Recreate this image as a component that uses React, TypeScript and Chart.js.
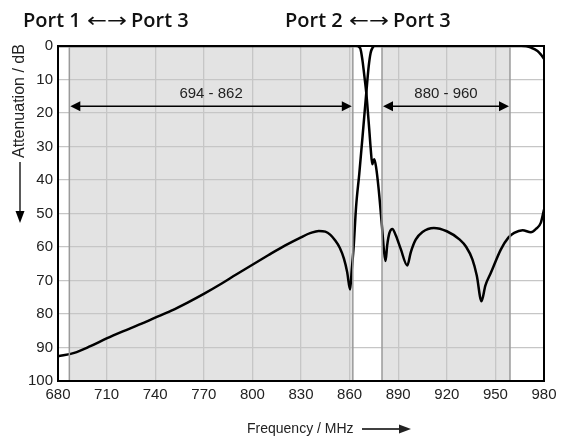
import React, { useEffect, useRef } from "react";
import { Chart, registerables } from "chart.js";
Chart.register(...registerables);

// Port 1 <-> Port 3 (passes 694-862, stops 880-960)
const port13Freq = [680, 720, 760, 800, 840, 860, 864, 866.5, 868, 869, 870.3, 871.5, 872.3, 873, 874, 875.2, 876.3, 878, 880, 881.2, 882.2, 883.2, 884.6, 886.4, 888.5, 891.5, 895.6, 897.8, 900.8, 905, 912, 920, 928, 932, 935.8, 938.5, 941.4, 943.8, 947.2, 953.4, 958, 961.6, 966.8, 971.9, 975, 978, 980];
const port13Att = [0, 0, 0, 0, 0, 0, 0, 0.6, 4.5, 8.5, 14, 21, 26, 30.5, 35.3, 33.8, 36, 43, 54, 61, 64.2, 59.5, 55.8, 54.6, 56.5, 60.5, 65.5, 61.5, 57.8, 55.5, 54.3, 55.3, 57.8, 60, 63.7, 68.5, 76.2, 71.5, 67.7, 60.7, 57.2, 55.8, 55, 55.6, 54.6, 52.8, 48.8];

// Port 2 <-> Port 3 (passes 880-960, stops 694-862)
const port23Freq = [680, 690, 700, 710, 720, 730, 740, 750, 760, 770, 780, 790, 800, 810, 820, 830, 836, 841, 845, 848, 851, 854, 856.5, 858.5, 860.3, 861.3, 862.5, 864, 866, 868, 870.3, 871.8, 873, 874.2, 875.5, 900, 940, 966, 969, 972, 976, 978, 980];
const port23Att = [92.6, 91.6, 89.6, 87.3, 85.2, 83.2, 81.1, 79, 76.6, 74, 71.2, 68.2, 65.3, 62.4, 59.6, 57.1, 55.8, 55.2, 55.4, 56.3, 58, 60.3, 63.5, 67.5, 72.7, 67, 60, 48, 38, 27, 14, 6, 2, 0.5, 0, 0, 0, 0, 0.1, 0.5, 1.5, 2.5, 3.8];

const xTickValues = [680, 710, 740, 770, 800, 830, 860, 890, 920, 950, 980];
const yTickValues = [0, 10, 20, 30, 40, 50, 60, 70, 80, 90, 100];

const bandStarts = [687, 880];
const bandEnds = [862, 959];
const bandLabels = ["694 - 862", "880 - 960"];
const bandArrowLevel = 18;

const portNamesLeft = ["Port 1", "Port 2"];
const portNamesRight = ["Port 3", "Port 3"];
const portArrow = "\u2190\u2192";
const yTitle = "Attenuation / dB";
const xTitle = "Frequency / MHz";

const FONT = "'Liberation Sans', Arial, sans-serif";

function drawDoubleArrow(ctx: CanvasRenderingContext2D, x1: number, x2: number, y: number) {
  const hl = 10, hw = 5;
  ctx.beginPath();
  ctx.moveTo(x1 + hl - 1, y);
  ctx.lineTo(x2 - hl + 1, y);
  ctx.lineWidth = 1.5;
  ctx.strokeStyle = "#000";
  ctx.stroke();
  ctx.fillStyle = "#000";
  ctx.beginPath();
  ctx.moveTo(x1, y);
  ctx.lineTo(x1 + hl, y - hw);
  ctx.lineTo(x1 + hl, y + hw);
  ctx.closePath();
  ctx.fill();
  ctx.beginPath();
  ctx.moveTo(x2, y);
  ctx.lineTo(x2 - hl, y - hw);
  ctx.lineTo(x2 - hl, y + hw);
  ctx.closePath();
  ctx.fill();
}

const decorPlugin = {
  id: "decor",
  beforeDraw(chart: any) {
    const { ctx, chartArea, scales } = chart;
    const xs = scales.x;
    ctx.save();
    for (let i = 0; i < bandStarts.length; i++) {
      const a = xs.getPixelForValue(bandStarts[i]);
      const b = xs.getPixelForValue(bandEnds[i]);
      ctx.fillStyle = "#e3e3e3";
      ctx.fillRect(a, chartArea.top, b - a, chartArea.bottom - chartArea.top);
    }
    ctx.restore();
  },
  afterDatasetsDraw(chart: any) {
    const { ctx, chartArea, scales } = chart;
    const xs = scales.x;
    ctx.save();
    ctx.strokeStyle = "#9a9a9a";
    ctx.lineWidth = 1.5;
    for (let i = 0; i < bandStarts.length; i++) {
      for (const v of [bandStarts[i], bandEnds[i]]) {
        const p = xs.getPixelForValue(v);
        ctx.beginPath();
        ctx.moveTo(p, chartArea.top);
        ctx.lineTo(p, chartArea.bottom);
        ctx.stroke();
      }
    }
    ctx.restore();
  },
  afterDraw(chart: any) {
    const { ctx, chartArea, scales } = chart;
    const xs = scales.x;
    const ys = scales.y;
    ctx.save();
    // frame
    ctx.strokeStyle = "#000";
    ctx.lineWidth = 2;
    ctx.strokeRect(chartArea.left, chartArea.top, chartArea.right - chartArea.left, chartArea.bottom - chartArea.top);

    // band arrows + labels
    const ay = ys.getPixelForValue(bandArrowLevel);
    ctx.font = `15px ${FONT}`;
    ctx.textAlign = "center";
    ctx.textBaseline = "middle";
    for (let i = 0; i < bandStarts.length; i++) {
      const a = xs.getPixelForValue(bandStarts[i]);
      const b = xs.getPixelForValue(bandEnds[i]);
      drawDoubleArrow(ctx, a + 1, b - 1, ay);
      ctx.fillStyle = "#222";
      ctx.fillText(bandLabels[i], (a + b) / 2, ay - 12);
    }

    // port titles
    ctx.fillStyle = "#111";
    ctx.textAlign = "left";
    ctx.textBaseline = "alphabetic";
    const titleX = [[23, 87, 131], [285, 349, 393]];
    for (let i = 0; i < 2; i++) {
      ctx.font = `600 20px 'Open Sans', ${FONT}`;
      ctx.fillText(portNamesLeft[i], titleX[i][0], 27);
      ctx.fillText(portNamesRight[i], titleX[i][2], 27);
      ctx.font = `20px 'DejaVu Sans'`;
      const w = ctx.measureText(portArrow).width;
      ctx.save();
      ctx.translate(titleX[i][1], 0);
      ctx.scale(40 / w, 1);
      ctx.fillText(portArrow, 0, 27);
      ctx.restore();
    }

    // y title
    ctx.save();
    ctx.translate(20, 158);
    ctx.rotate(-Math.PI / 2);
    ctx.font = `16px ${FONT}`;
    ctx.fillStyle = "#222";
    ctx.textAlign = "left";
    ctx.textBaseline = "middle";
    ctx.fillText(yTitle, 0, 0);
    ctx.restore();
    ctx.strokeStyle = "#000";
    ctx.lineWidth = 1.3;
    ctx.beginPath();
    ctx.moveTo(20, 162);
    ctx.lineTo(20, 214);
    ctx.stroke();
    ctx.fillStyle = "#000";
    ctx.beginPath();
    ctx.moveTo(20, 223);
    ctx.lineTo(15.5, 211);
    ctx.lineTo(24.5, 211);
    ctx.closePath();
    ctx.fill();

    // x title
    ctx.font = `14px ${FONT}`;
    ctx.fillStyle = "#222";
    ctx.textAlign = "left";
    ctx.textBaseline = "middle";
    ctx.fillText(xTitle, 247, 429);
    ctx.beginPath();
    ctx.moveTo(362, 429);
    ctx.lineTo(401, 429);
    ctx.stroke();
    ctx.beginPath();
    ctx.moveTo(411, 429);
    ctx.lineTo(399, 424.5);
    ctx.lineTo(399, 433.5);
    ctx.closePath();
    ctx.fill();
    ctx.restore();
  },
};

export default function App() {
  const ref = useRef<HTMLCanvasElement | null>(null);
  useEffect(() => {
    if (!ref.current) return;
    const toPts = (xs: number[], ys: number[]) => xs.map((x, i) => ({ x, y: ys[i] }));
    const chart = new Chart(ref.current, {
      type: "line",
      data: {
        datasets: [
          {
            data: toPts(port13Freq, port13Att),
            borderColor: "#000",
            borderWidth: 2.5,
            pointRadius: 0,
            cubicInterpolationMode: "monotone",
            fill: false,
          },
          {
            data: toPts(port23Freq, port23Att),
            borderColor: "#000",
            borderWidth: 2.5,
            pointRadius: 0,
            cubicInterpolationMode: "monotone",
            fill: false,
          },
        ],
      },
      options: {
        responsive: false,
        animation: false,
        devicePixelRatio: 1,
        layout: { padding: { top: 46, right: 22, bottom: 0, left: 0 } },
        plugins: { legend: { display: false }, tooltip: { enabled: false } },
        scales: {
          x: {
            type: "linear",
            min: 680,
            max: 980,
            afterBuildTicks: (s: any) => {
              s.ticks = xTickValues.map((v) => ({ value: v }));
            },
            afterFit: (s: any) => {
              s.height = 60;
            },
            ticks: {
              autoSkip: false,
              maxRotation: 0,
              padding: 5,
              color: "#222",
              font: { family: FONT, size: 15 },
            },
            grid: { color: "#c6c6c6", lineWidth: 1.3, drawTicks: false },
            border: { display: false },
          },
          y: {
            type: "linear",
            reverse: true,
            min: 0,
            max: 100,
            afterBuildTicks: (s: any) => {
              s.ticks = yTickValues.map((v) => ({ value: v }));
            },
            afterFit: (s: any) => {
              s.width = 58;
            },
            ticks: {
              padding: 5,
              color: "#222",
              font: { family: FONT, size: 15 },
            },
            grid: { color: "#c6c6c6", lineWidth: 1.3, drawTicks: false },
            border: { display: false },
          },
        },
      } as any,
      plugins: [decorPlugin],
    });
    return () => chart.destroy();
  }, []);
  return (
    <div style={{ position: "absolute", left: 0, top: 0, width: 566, height: 441, background: "#fff" }}>
      <canvas ref={ref} width={566} height={441} style={{ width: 566, height: 441 }} />
    </div>
  );
}
